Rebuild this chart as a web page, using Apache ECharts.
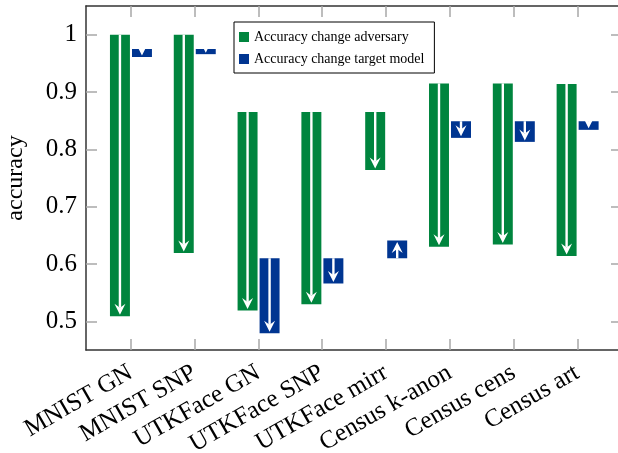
<!DOCTYPE html>
<html><head><meta charset="utf-8">
<script src="https://cdn.jsdelivr.net/npm/echarts@6/dist/echarts.min.js"></script>
<style>html,body{margin:0;padding:0;background:#fff}#c{width:618px;height:453px}</style>
</head><body><div id="c"></div>
<script>
const categories = ['MNIST GN','MNIST SNP','UTKFace GN','UTKFace SNP','UTKFace mirr','Census k-anon','Census cens','Census art'];
const advStart = [1.0, 1.0, 0.865, 0.865, 0.865, 0.915, 0.915, 0.914];
const advEnd   = [0.509, 0.619, 0.519, 0.530, 0.764, 0.630, 0.634, 0.614];
const tgtStart = [0.975, 0.975, 0.610, 0.610, 0.610, 0.849, 0.849, 0.849];
const tgtEnd   = [0.961, 0.966, 0.479, 0.566, 0.641, 0.820, 0.813, 0.834];
const yTicks = [0.5, 0.6, 0.7, 0.8, 0.9, 1.0];
const seriesNames = ['Accuracy change adversary', 'Accuracy change target model'];

const GREEN = '#00853e', BLUE = '#003591';
const FONT = '"Liberation Serif", "Times New Roman", serif';
const catIdx = categories.map((_, i) => i);

function makeRender(offsetFrac, widthFrac, color) {
  return function (params, api) {
    const x = api.value(0), s = api.value(1), e = api.value(2);
    const p1 = api.coord([x, s]), p2 = api.coord([x, e]);
    const unit = api.size([1, 0])[0];
    const cx = p1[0] + offsetFrac * unit;
    const w = widthFrac * unit;
    const top = Math.min(p1[1], p2[1]);
    const h = Math.abs(p2[1] - p1[1]);
    const dir = p2[1] > p1[1] ? 1 : -1;
    const tipY = p2[1] - dir * 1.5;
    const hl = 11, hw = 5.5, notch = 4;
    const lineEnd = tipY - dir * (hl - notch);
    return {
      type: 'group',
      children: [
        { type: 'rect', shape: { x: cx - w / 2, y: top, width: w, height: h }, style: { fill: color } },
        { type: 'line', shape: { x1: cx, y1: p1[1], x2: cx, y2: lineEnd }, style: { stroke: '#fff', lineWidth: 2.4 } },
        { type: 'polygon', shape: { points: [[cx, tipY], [cx - hw, tipY - dir * hl], [cx, tipY - dir * (hl - notch)], [cx + hw, tipY - dir * hl]] }, style: { fill: '#fff' } }
      ]
    };
  };
}

const tickStyle = { color: '#a8a8a8', width: 1.5 };
const lineStyle = { color: '#333', width: 1.5 };

const option = {
  animation: false,
  backgroundColor: '#fff',
  grid: { left: 86, right: -4, top: 6, bottom: 103, outerBoundsMode: 'none', containLabel: false },
  legend: {
    data: seriesNames.map((n, i) => ({ name: n, itemStyle: { color: i ? BLUE : GREEN } })),
    orient: 'vertical', left: 234, top: 22,
    borderColor: '#000', borderWidth: 1, borderRadius: 0,
    padding: [7, 10, 6, 5], itemGap: 6, itemWidth: 10, itemHeight: 10, itemTextGap: 6,
    icon: 'rect', backgroundColor: '#fff',
    textStyle: { fontFamily: FONT, fontSize: 14, color: '#000', lineHeight: 16 }
  },
  xAxis: [
    {
      type: 'value', min: -0.7, max: 7.7, position: 'bottom',
      axisLine: { show: true, onZero: false, lineStyle: lineStyle },
      axisTick: { show: true, inside: true, length: 11, lineStyle: tickStyle, customValues: catIdx },
      axisLabel: {
        customValues: catIdx, rotate: 30, margin: 21,
        fontFamily: FONT, fontSize: 25, color: '#000',
        formatter: v => categories[Math.round(v)] || ''
      },
      splitLine: { show: false }
    },
    {
      type: 'value', min: -0.7, max: 7.7, position: 'top',
      axisLine: { show: true, onZero: false, lineStyle: lineStyle },
      axisTick: { show: true, inside: true, length: 11, lineStyle: tickStyle, customValues: catIdx },
      axisLabel: { show: false },
      splitLine: { show: false }
    }
  ],
  yAxis: [
    {
      type: 'value', min: 0.45, max: 1.05, position: 'left',
      name: 'accuracy', nameLocation: 'middle', nameGap: 58, nameRotate: 90,
      nameTextStyle: { fontFamily: FONT, fontSize: 24, color: '#000' },
      axisLine: { show: true, onZero: false, lineStyle: lineStyle },
      axisTick: { show: true, inside: true, length: 11, lineStyle: tickStyle, customValues: yTicks },
      axisLabel: {
        customValues: yTicks, margin: 9, fontFamily: FONT, fontSize: 25, color: '#000',
        formatter: v => String(Math.round(v * 10) / 10)
      },
      splitLine: { show: false }
    },
    {
      type: 'value', min: 0.45, max: 1.05, position: 'right',
      axisLine: { show: true, onZero: false, lineStyle: lineStyle },
      axisTick: { show: true, inside: true, length: 11, lineStyle: tickStyle, customValues: yTicks },
      axisLabel: { show: false },
      splitLine: { show: false }
    }
  ],
  series: [
    {
      name: seriesNames[0], type: 'custom', xAxisIndex: 0, yAxisIndex: 0,
      itemStyle: { color: GREEN },
      renderItem: makeRender(-0.168, 0.313, GREEN),
      data: catIdx.map(i => [i, advStart[i], advEnd[i]]),
      encode: { x: 0, y: [1, 2] }
    },
    {
      name: seriesNames[1], type: 'custom', xAxisIndex: 0, yAxisIndex: 0,
      itemStyle: { color: BLUE },
      renderItem: makeRender(0.177, 0.313, BLUE),
      data: catIdx.map(i => [i, tgtStart[i], tgtEnd[i]]),
      encode: { x: 0, y: [1, 2] }
    }
  ]
};
const chart = echarts.init(document.getElementById('c'), null, { renderer: 'canvas' });
chart.setOption(option);
</script></body></html>
